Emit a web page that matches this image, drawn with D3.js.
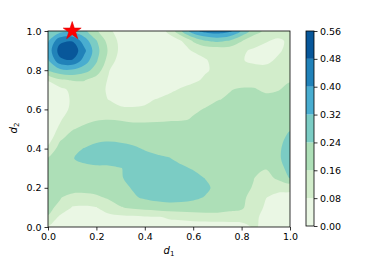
<!DOCTYPE html>
<html>
<head>
<meta charset="utf-8">
<script src="https://cdn.jsdelivr.net/npm/d3@7"></script>
<style>
  body { margin: 0; background: #fff; }
  svg { display: block; font-family: "DejaVu Sans", sans-serif; }
</style>
</head>
<body>
<svg id="chart" width="390" height="260"></svg>
<script>
// axis ticks and contour levels
const d1Ticks = [0.0, 0.2, 0.4, 0.6, 0.8, 1.0];
const d2Ticks = [0.0, 0.2, 0.4, 0.6, 0.8, 1.0];
const levels = [0.00, 0.08, 0.16, 0.24, 0.32, 0.40, 0.48, 0.56];
const levelColors = ['#eaf7e4', '#d2edcb', '#addfb7', '#7bccc4', '#49add0', '#2182b9', '#08579a'];
const star = [0.1, 1.0];

// field, d1 = 0 .. 1 step 0.05 across, rows d2 = 1.0 down to 0.0
const zRows = [
  [0.24, 0.29, 0.30, 0.26, 0.17, 0.095, 0.05, 0.04, 0.04, 0.05, 0.09, 0.23, 0.37, 0.43, 0.45, 0.42, 0.31, 0.20, 0.14, 0.11, 0.11],
  [0.31, 0.46, 0.475, 0.36, 0.245, 0.13, 0.06, 0.04, 0.035, 0.04, 0.06, 0.078, 0.17, 0.238, 0.26, 0.235, 0.165, 0.11, 0.085, 0.07, 0.09],
  [0.35, 0.52, 0.54, 0.42, 0.27, 0.15, 0.06, 0.03, 0.03, 0.03, 0.04, 0.06, 0.085, 0.10, 0.10, 0.11, 0.09, 0.07, 0.06, 0.07, 0.10],
  [0.31, 0.46, 0.475, 0.37, 0.25, 0.13, 0.04, 0.03, 0.025, 0.025, 0.03, 0.04, 0.05, 0.075, 0.10, 0.11, 0.085, 0.065, 0.065, 0.09, 0.12],
  [0.25, 0.30, 0.31, 0.27, 0.21, 0.085, 0.035, 0.02, 0.02, 0.02, 0.025, 0.03, 0.045, 0.07, 0.10, 0.12, 0.12, 0.11, 0.10, 0.11, 0.13],
  [0.085, 0.15, 0.165, 0.165, 0.12, 0.075, 0.03, 0.02, 0.02, 0.02, 0.03, 0.04, 0.06, 0.095, 0.12, 0.15, 0.14, 0.14, 0.135, 0.15, 0.155],
  [0.04, 0.055, 0.10, 0.12, 0.11, 0.07, 0.03, 0.02, 0.02, 0.025, 0.06, 0.09, 0.12, 0.145, 0.155, 0.158, 0.165, 0.165, 0.152, 0.157, 0.175],
  [0.04, 0.045, 0.09, 0.11, 0.10, 0.079, 0.06, 0.05, 0.06, 0.085, 0.11, 0.13, 0.14, 0.15, 0.158, 0.165, 0.17, 0.17, 0.175, 0.18, 0.19],
  [0.04, 0.06, 0.09, 0.12, 0.13, 0.12, 0.09, 0.09, 0.095, 0.11, 0.125, 0.14, 0.155, 0.162, 0.175, 0.185, 0.19, 0.19, 0.19, 0.195, 0.20],
  [0.045, 0.074, 0.11, 0.14, 0.155, 0.158, 0.155, 0.15, 0.15, 0.152, 0.155, 0.155, 0.163, 0.175, 0.19, 0.20, 0.205, 0.205, 0.205, 0.21, 0.22],
  [0.05, 0.09, 0.155, 0.175, 0.185, 0.19, 0.185, 0.18, 0.18, 0.18, 0.18, 0.185, 0.19, 0.20, 0.21, 0.215, 0.22, 0.22, 0.225, 0.232, 0.237],
  [0.04, 0.15, 0.19, 0.21, 0.225, 0.23, 0.225, 0.22, 0.215, 0.21, 0.205, 0.205, 0.21, 0.215, 0.22, 0.225, 0.225, 0.225, 0.23, 0.228, 0.25],
  [0.10, 0.19, 0.225, 0.242, 0.26, 0.265, 0.262, 0.25, 0.235, 0.225, 0.215, 0.21, 0.21, 0.215, 0.22, 0.225, 0.225, 0.228, 0.232, 0.228, 0.27],
  [0.165, 0.20, 0.235, 0.265, 0.275, 0.278, 0.278, 0.272, 0.262, 0.25, 0.243, 0.225, 0.215, 0.21, 0.215, 0.215, 0.215, 0.22, 0.225, 0.228, 0.275],
  [0.18, 0.19, 0.20, 0.215, 0.225, 0.225, 0.238, 0.255, 0.27, 0.27, 0.265, 0.25, 0.235, 0.22, 0.21, 0.205, 0.20, 0.185, 0.165, 0.20, 0.275],
  [0.19, 0.19, 0.19, 0.19, 0.20, 0.215, 0.235, 0.258, 0.275, 0.28, 0.28, 0.275, 0.26, 0.238, 0.215, 0.20, 0.19, 0.162, 0.13, 0.175, 0.245],
  [0.19, 0.195, 0.20, 0.195, 0.195, 0.20, 0.22, 0.245, 0.27, 0.285, 0.29, 0.285, 0.275, 0.255, 0.22, 0.20, 0.18, 0.155, 0.12, 0.10, 0.095],
  [0.18, 0.165, 0.13, 0.13, 0.145, 0.17, 0.20, 0.23, 0.25, 0.265, 0.27, 0.265, 0.255, 0.235, 0.21, 0.19, 0.175, 0.135, 0.082, 0.06, 0.06],
  [0.175, 0.145, 0.075, 0.07, 0.078, 0.12, 0.155, 0.175, 0.19, 0.20, 0.21, 0.21, 0.205, 0.20, 0.195, 0.18, 0.172, 0.115, 0.07, 0.05, 0.04],
  [0.155, 0.06, 0.05, 0.045, 0.05, 0.055, 0.06, 0.065, 0.07, 0.075, 0.085, 0.10, 0.115, 0.125, 0.13, 0.13, 0.12, 0.095, 0.06, 0.04, 0.03],
  [0.07, 0.04, 0.03, 0.03, 0.03, 0.035, 0.04, 0.045, 0.05, 0.055, 0.06, 0.035, 0.03, 0.025, 0.025, 0.03, 0.045, 0.09, 0.06, 0.035, 0.03]
];

const svg = d3.select('#chart');
const x = d3.scaleLinear().domain([0, 1]).range([48, 290]);
const y = d3.scaleLinear().domain([0, 1]).range([227, 31]);

// grid cell centres -> data coords (d3.contours puts value i at i + 0.5)
const nx = zRows[0].length, ny = zRows.length;
const gx = d3.scaleLinear().domain([0.5, nx - 0.5]).range([x(0), x(1)]);
const gy = d3.scaleLinear().domain([0.5, ny - 0.5]).range([y(1), y(0)]);

const contours = d3.contours()
  .size([nx, ny])
  .thresholds(levels.slice(0, -1))(zRows.flat());

const ringLine = d3.line()
  .x(p => gx(p[0]))
  .y(p => gy(p[1]))
  .curve(d3.curveCatmullRomClosed.alpha(0.5));

function contourPath(c) {
  return c.coordinates.map(poly => poly.map(r => ringLine(r.slice(0, -1))).join('')).join('');
}

svg.append('clipPath').attr('id', 'plotClip')
  .append('rect')
  .attr('x', x(0)).attr('y', y(1))
  .attr('width', x(1) - x(0)).attr('height', y(0) - y(1));

svg.append('g')
  .attr('clip-path', 'url(#plotClip)')
  .selectAll('path')
  .data(contours)
  .enter()
  .append('path')
  .attr('d', contourPath)
  .attr('fill-rule', 'evenodd')
  .attr('fill', (d, i) => levelColors[i]);

// axes
const xAxis = d3.axisBottom(x).tickValues(d1Ticks).tickFormat(d3.format('.1f')).tickSize(3.5).tickPadding(3);
const yAxis = d3.axisLeft(y).tickValues(d2Ticks).tickFormat(d3.format('.1f')).tickSize(3.5).tickPadding(3);

const gX = svg.append('g').attr('transform', 'translate(0,' + y(0) + ')').call(xAxis);
const gY = svg.append('g').attr('transform', 'translate(' + x(0) + ',0)').call(yAxis);
[gX, gY].forEach(g => {
  g.select('.domain').remove();
  g.selectAll('.tick line').attr('stroke', '#000').attr('stroke-width', 0.8);
  g.selectAll('.tick text').attr('fill', '#000').style('font-size', '9.5px').style('font-family', '"DejaVu Sans", sans-serif');
});

svg.append('rect')
  .attr('x', x(0)).attr('y', y(1))
  .attr('width', x(1) - x(0)).attr('height', y(0) - y(1))
  .attr('fill', 'none').attr('stroke', '#000').attr('stroke-width', 0.8);

// axis labels
const xLabel = svg.append('text')
  .attr('x', (x(0) + x(1)) / 2).attr('y', 254)
  .attr('text-anchor', 'middle').style('font-size', '10px');
xLabel.append('tspan').style('font-style', 'italic').text('d');
xLabel.append('tspan').attr('dy', 2).style('font-size', '7px').text('1');

const yLabel = svg.append('text')
  .attr('transform', 'translate(17,' + (y(0.5) - 1) + ') rotate(-90)')
  .attr('text-anchor', 'middle').style('font-size', '10px');
yLabel.append('tspan').style('font-style', 'italic').text('d');
yLabel.append('tspan').attr('dy', 2).style('font-size', '7px').text('2');

// star marker
svg.append('path')
  .attr('d', d3.symbol(d3.symbolStar, 100)())
  .attr('transform', 'translate(' + x(star[0]) + ',' + y(star[1]) + ')')
  .attr('fill', '#ff0000')
  .attr('stroke', '#e00000')
  .attr('stroke-width', 0.6);

// colorbar
const cbX = 306, cbW = 8;
const cbY = d3.scaleLinear().domain([levels[0], levels[levels.length - 1]]).range([226, 31]);
const cb = svg.append('g');
cb.selectAll('rect.band')
  .data(levelColors)
  .enter()
  .append('rect')
  .attr('class', 'band')
  .attr('x', cbX).attr('width', cbW)
  .attr('y', (d, i) => cbY(levels[i + 1]))
  .attr('height', (d, i) => cbY(levels[i]) - cbY(levels[i + 1]))
  .attr('fill', d => d);
cb.append('rect')
  .attr('x', cbX).attr('y', cbY(levels[levels.length - 1]))
  .attr('width', cbW).attr('height', cbY(levels[0]) - cbY(levels[levels.length - 1]))
  .attr('fill', 'none').attr('stroke', '#000').attr('stroke-width', 0.8);

const cbAxis = d3.axisRight(cbY).tickValues(levels).tickFormat(d3.format('.2f')).tickSize(3.5).tickPadding(2.5);
const gCb = svg.append('g').attr('transform', 'translate(' + (cbX + cbW) + ',0)').call(cbAxis);
gCb.select('.domain').remove();
gCb.selectAll('.tick line').attr('stroke', '#000').attr('stroke-width', 0.8);
gCb.selectAll('.tick text').attr('fill', '#000').style('font-size', '9.5px').style('font-family', '"DejaVu Sans", sans-serif');
</script>
</body>
</html>
